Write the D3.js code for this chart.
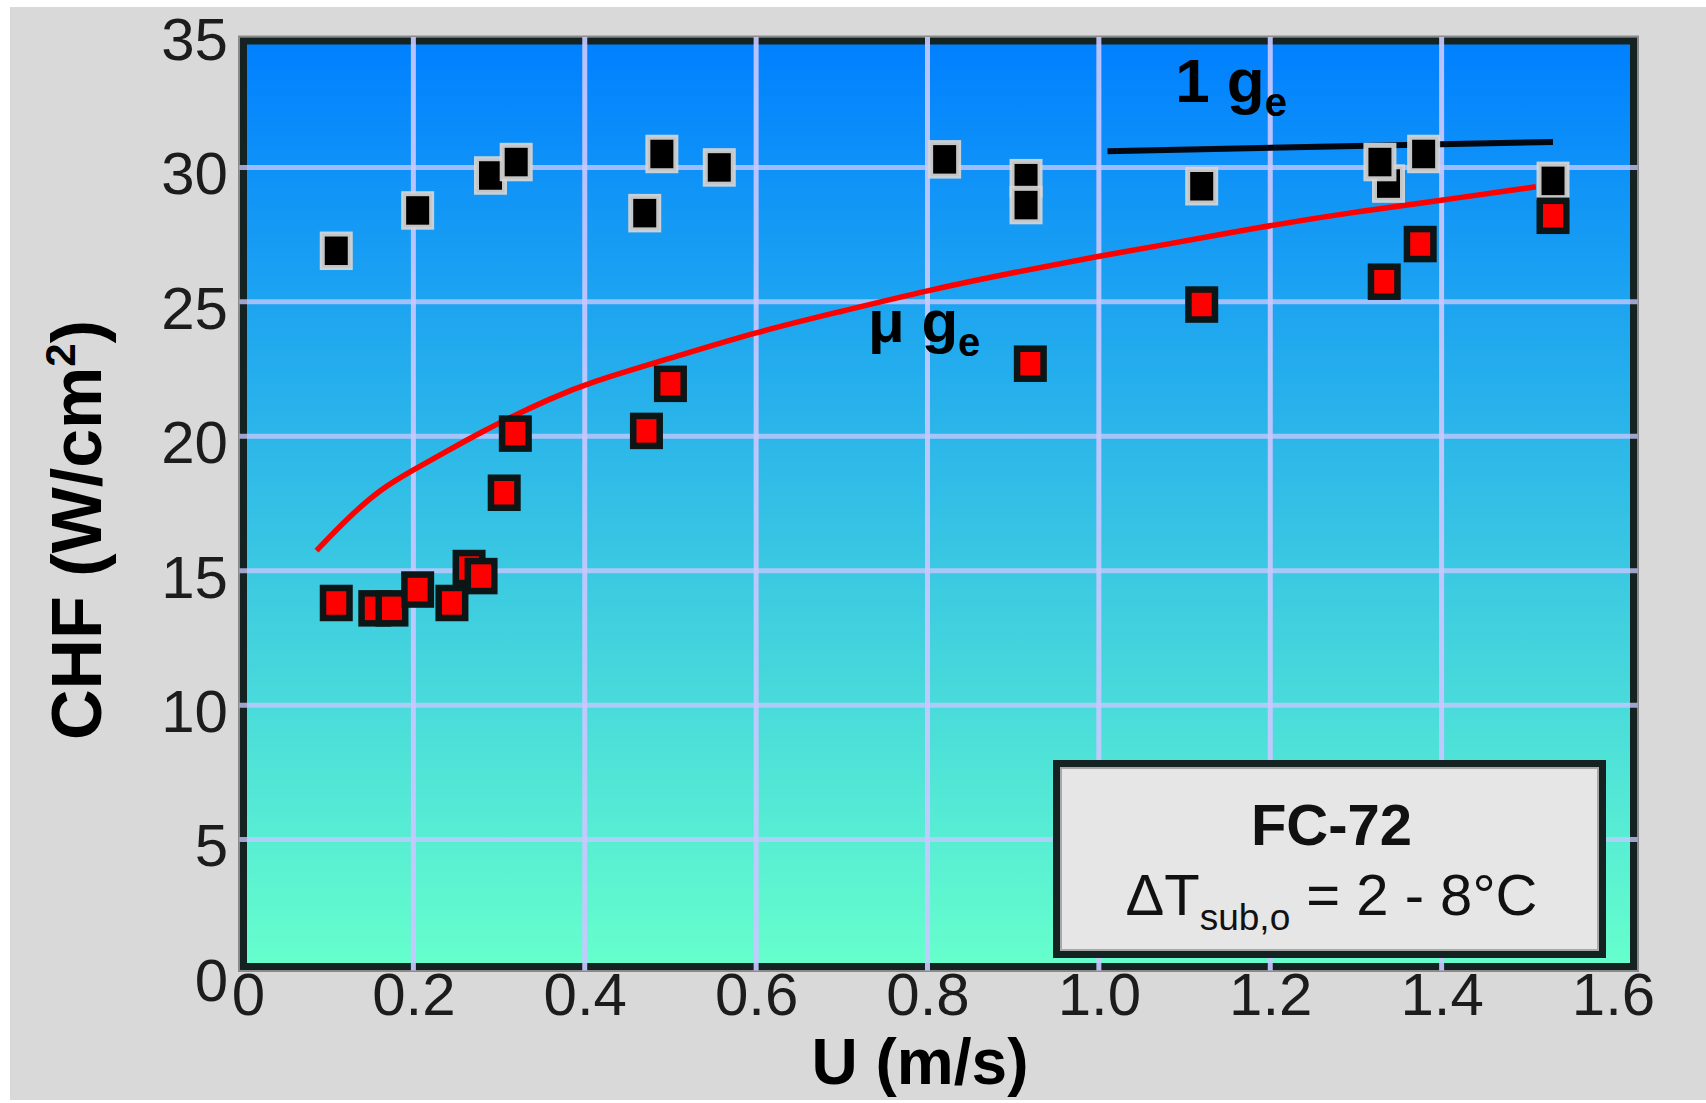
<!DOCTYPE html>
<html>
<head>
<meta charset="utf-8">
<script src="https://cdn.jsdelivr.net/npm/d3@7"></script>
<style>
  html, body { margin: 0; padding: 0; background: #ffffff; }
  svg { display: block; }
  text { font-family: "Liberation Sans", Arial, Helvetica, sans-serif; }
</style>
</head>
<body>
<svg id="chart" width="1706" height="1103"></svg>
<script>
// ---------------- data ----------------
const xTicks      = [0, 0.2, 0.4, 0.6, 0.8, 1.0, 1.2, 1.4, 1.6];
const xTickLabels = ["0", "0.2", "0.4", "0.6", "0.8", "1.0", "1.2", "1.4", "1.6"];
const yTicks      = [0, 5, 10, 15, 20, 25, 30, 35];
const yTickLabels = ["0", "5", "10", "15", "20", "25", "30", "35"];

// 1 g_e measurements (black squares)
const oneGU   = [0.11, 0.205, 0.29, 0.32, 0.47, 0.49, 0.557, 0.82, 0.915, 0.915, 1.12, 1.338, 1.328, 1.379, 1.53];
const oneGCHF = [26.9, 28.4, 29.7, 30.2, 28.3, 30.5, 30.0, 30.3, 29.6, 28.6, 29.3, 29.4, 30.2, 30.5, 29.5];

// μ g_e measurements (red squares)
const microU   = [0.11, 0.155, 0.175, 0.205, 0.245, 0.265, 0.279, 0.306, 0.319, 0.472, 0.50, 0.92, 1.12, 1.333, 1.375, 1.53];
const microCHF = [13.8, 13.6, 13.6, 14.3, 13.8, 15.1, 14.8, 17.9, 20.1, 20.2, 21.95, 22.7, 24.9, 25.75, 27.15, 28.2];

// μ g_e correlation curve (red line)
const curveU   = [0.087, 0.123, 0.162, 0.2, 0.239, 0.279, 0.316, 0.36, 0.405, 0.5, 0.6, 0.7, 0.8, 0.9, 1.0, 1.055, 1.2, 1.3, 1.4, 1.51];
const curveCHF = [15.75, 16.95, 18.05, 18.75, 19.45, 20.15, 20.75, 21.4, 22.0, 22.9, 23.88, 24.65, 25.43, 26.09, 26.7, 27.0, 27.85, 28.35, 28.78, 29.28];

// 1 g_e reference line (black line)
const oneGLineU   = [1.01, 1.53];
const oneGLineCHF = [30.6, 30.95];

// ---------------- layout ----------------
const W = 1706, H = 1103;
const FRAME = { left: 243.5, right: 1633.5, top: 41, bottom: 966.5 };
const FONT = '"Liberation Sans", Arial, Helvetica, sans-serif';

const svg = d3.select("#chart");

const x = d3.scaleLinear().domain([0, 1.6]).range([242, 1613]);
const y = d3.scaleLinear().domain([0, 35]).range([974, 33]);

// page background
svg.append("rect").attr("x", 0).attr("y", 0).attr("width", W).attr("height", H).attr("fill", "#ffffff");
svg.append("rect").attr("x", 10).attr("y", 7).attr("width", W - 10).attr("height", H - 10).attr("fill", "#d9d9d9");

// gradient
const defs = svg.append("defs");
const grad = defs.append("linearGradient").attr("id", "bg").attr("x1", 0).attr("y1", 0).attr("x2", 0).attr("y2", 1);
grad.append("stop").attr("offset", "0%").attr("stop-color", "#0080ff");
grad.append("stop").attr("offset", "100%").attr("stop-color", "#66ffcc");

svg.append("rect")
  .attr("x", FRAME.left).attr("y", FRAME.top)
  .attr("width", FRAME.right - FRAME.left).attr("height", FRAME.bottom - FRAME.top)
  .attr("fill", "url(#bg)");

// frame border
svg.append("rect")
  .attr("x", FRAME.left - 4.5).attr("y", FRAME.top - 4.5)
  .attr("width", FRAME.right - FRAME.left + 9).attr("height", FRAME.bottom - FRAME.top + 9)
  .attr("fill", "none").attr("stroke", "#8a8a8a").attr("stroke-width", 2);
svg.append("rect")
  .attr("x", FRAME.left).attr("y", FRAME.top)
  .attr("width", FRAME.right - FRAME.left).attr("height", FRAME.bottom - FRAME.top)
  .attr("fill", "none").attr("stroke", "#152222").attr("stroke-width", 7);

// grid lines
const gridX = xTicks.filter(d => d > 0 && d < 1.6);
const gridY = yTicks.filter(d => d > 0 && d < 35);
svg.append("g").selectAll("line").data(gridY).join("line")
  .attr("x1", FRAME.left - 4).attr("x2", FRAME.right + 4)
  .attr("y1", d => y(d)).attr("y2", d => y(d))
  .attr("stroke", "#c8c8ff").attr("stroke-opacity", 0.78).attr("stroke-width", 5);
svg.append("g").selectAll("line").data(gridX).join("line")
  .attr("x1", d => x(d)).attr("x2", d => x(d))
  .attr("y1", FRAME.top - 4).attr("y2", FRAME.bottom + 4)
  .attr("stroke", "#c8c8ff").attr("stroke-opacity", 0.92).attr("stroke-width", 5);

// legend box (drawn over the grid)
const box = { x: 1056.5, y: 763.5, w: 546, h: 191 };
svg.append("rect").attr("x", box.x).attr("y", box.y).attr("width", box.w).attr("height", box.h)
  .attr("fill", "#e6e6e6").attr("stroke", "#152222").attr("stroke-width", 7);
svg.append("rect").attr("x", box.x + 4.5).attr("y", box.y + 4.5).attr("width", box.w - 9).attr("height", box.h - 9)
  .attr("fill", "none").attr("stroke", "#a8a8a8").attr("stroke-width", 2);

const bx = box.x + box.w / 2 + 2;
svg.append("text").attr("x", bx).attr("y", 845)
  .attr("text-anchor", "middle").attr("font-family", FONT)
  .attr("font-size", 58).attr("font-weight", "bold").attr("fill", "#111")
  .text("FC-72");
const t2 = svg.append("text").attr("x", bx).attr("y", 915)
  .attr("text-anchor", "middle").attr("font-family", FONT)
  .attr("font-size", 58).attr("fill", "#111");
t2.append("tspan").text("ΔT");
t2.append("tspan").attr("font-size", 37).attr("dy", 15).text("sub,o");
t2.append("tspan").attr("dy", -15).text(" = 2 - 8°C");

// 1 g_e reference line
const lineGen = d3.line().x(d => x(d[0])).y(d => y(d[1]));
svg.append("path")
  .datum(oneGLineU.map((u, i) => [u, oneGLineCHF[i]]))
  .attr("d", lineGen)
  .attr("fill", "none").attr("stroke", "#000814").attr("stroke-width", 6);

// μ g_e curve
const curveGen = d3.line().x(d => x(d[0])).y(d => y(d[1])).curve(d3.curveBasis);
svg.append("path")
  .datum(curveU.map((u, i) => [u, curveCHF[i]]))
  .attr("d", curveGen)
  .attr("fill", "none").attr("stroke", "#ff0000").attr("stroke-width", 5.5)
  .attr("stroke-linecap", "butt");

// annotations
const a1 = svg.append("text").attr("x", x(1.089)).attr("y", y(32.45))
  .attr("font-family", FONT).attr("font-size", 62).attr("font-weight", "bold").attr("fill", "#000");
a1.append("tspan").text("1 g");
a1.append("tspan").attr("font-size", 40).attr("dy", 14).text("e");

const a2 = svg.append("text").attr("x", x(0.7306)).attr("y", y(23.52))
  .attr("font-family", FONT).attr("font-size", 60).attr("font-weight", "bold").attr("fill", "#000");
a2.append("tspan").text("μ g");
a2.append("tspan").attr("font-size", 40).attr("dy", 14).text("e");

// black squares (1 g_e)
const bw = 28, bh = 33.5;
svg.append("g").selectAll("rect").data(oneGU.map((u, i) => [u, oneGCHF[i]])).join("rect")
  .attr("x", d => x(d[0]) - bw / 2).attr("y", d => y(d[1]) - bh / 2)
  .attr("width", bw).attr("height", bh)
  .attr("fill", "#000").attr("stroke", "#d6d6d6").attr("stroke-opacity", 0.92).attr("stroke-width", 5);

// red squares (μ g_e)
const rw = 26.5, rh = 30;
svg.append("g").selectAll("rect").data(microU.map((u, i) => [u, microCHF[i]])).join("rect")
  .attr("x", d => x(d[0]) - rw / 2).attr("y", d => y(d[1]) - rh / 2)
  .attr("width", rw).attr("height", rh)
  .attr("fill", "#ff0000").attr("stroke", "#0c1616").attr("stroke-width", 6.5);

// axes
const xAxis = svg.append("g").attr("transform", "translate(0,972)")
  .call(d3.axisBottom(x).tickValues(xTicks).tickFormat((d, i) => xTickLabels[i]).tickSize(0).tickPadding(0));
xAxis.select(".domain").remove();
xAxis.selectAll("text").attr("font-family", FONT).attr("font-size", 60).attr("fill", "#1c1c1c")
  .attr("dx", (d, i) => i === 0 ? 6 : 0);

const yAxis = svg.append("g").attr("transform", "translate(228,0)")
  .call(d3.axisLeft(y).tickValues(yTicks).tickFormat((d, i) => yTickLabels[i]).tickSize(0).tickPadding(0));
yAxis.select(".domain").remove();
yAxis.selectAll("text").attr("font-family", FONT).attr("font-size", 60).attr("fill", "#1c1c1c").attr("dy", "0.44em");

// axis titles
svg.append("text").attr("x", 920).attr("y", 1084)
  .attr("text-anchor", "middle").attr("font-family", FONT)
  .attr("font-size", 64).attr("font-weight", "bold").attr("fill", "#000")
  .text("U (m/s)");

const yt = svg.append("text").attr("transform", "translate(101,530) rotate(-90)")
  .attr("text-anchor", "middle").attr("font-family", FONT)
  .attr("font-size", 70).attr("font-weight", "bold").attr("fill", "#000");
yt.append("tspan").text("CHF (W/cm");
yt.append("tspan").attr("font-size", 42).attr("dy", -26).text("2");
yt.append("tspan").attr("dy", 26).text(")");
</script>
</body>
</html>
